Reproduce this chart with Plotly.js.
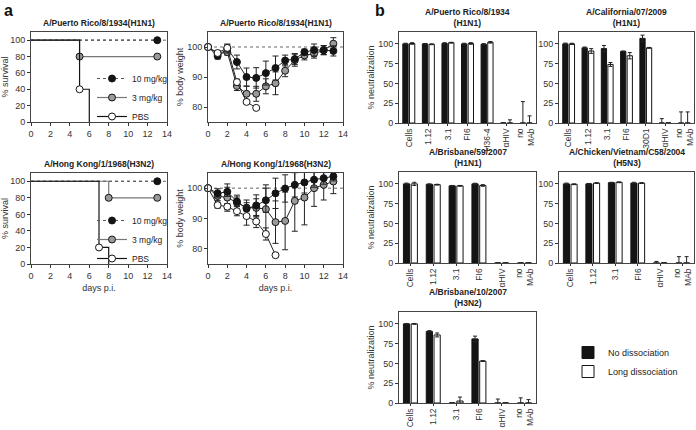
<!DOCTYPE html>
<html>
<head>
<meta charset="utf-8">
<script src="https://cdn.plot.ly/plotly-3.0.1.min.js"></script>
<style>
  html, body { margin: 0; padding: 0; background: #fff; }
  #chart { width: 696px; height: 430px; }
</style>
</head>
<body>
<div id="chart"></div>
<script>
// ---- panel a: survival (days, % survival) ----
const survPR8Days10 = [0, 13];
const survPR8Pct10 = [100, 100];
const survPR8Days3 = [0, 5, 13];
const survPR8Pct3 = [100, 80, 80];
const survPR8DaysPBS = [0, 5, 6];
const survPR8PctPBS = [100, 40, 0];

const survHKDays10 = [0, 13];
const survHKPct10 = [100, 100];
const survHKDays3 = [0, 8, 13];
const survHKPct3 = [100, 80, 80];
const survHKDaysPBS = [0, 7, 8];
const survHKPctPBS = [100, 20, 0];

// ---- panel a: body weight (% of day 0) ----
const days = [0, 1, 2, 3, 4, 5, 6, 7, 8, 9, 10, 11, 12, 13];
const wPR8_10 = [100, 97, 99.5, 95, 90, 89.7, 91.3, 93, 95.5, 96, 98.3, 99, 99, 98.7];
const ePR8_10 = [0, 1, 1.5, 2.3, 3, 3.4, 4, 4, 1.8, 1.8, 1, 2, 1.5, 1.7];
const wPR8_3 = [100, 97.7, 98.3, 87, 84.4, 84.4, 86.9, 87.9, 92.1, 95.6, 97.2, 97.8, 98.9, 101.1];
const ePR8_3 = [0, 0.8, 1, 1.5, 2.5, 2.5, 2.5, 3.8, 2, 2, 1.5, 1.5, 1.5, 2];
const daysPR8PBS = [0, 1, 2, 3, 4, 5];
const wPR8_PBS = [100, 98, 99.7, 88.3, 81.7, 79.7];
const ePR8_PBS = [0, 0.8, 1, 1, 0.5, 0.5];

const wHK_10 = [100, 98.3, 98.8, 95.6, 93.2, 94.3, 96, 98.3, 99.9, 101.1, 101.9, 102.8, 103.3, 103.9];
const eHK_10 = [0, 1.5, 1.5, 1.5, 2, 3.5, 4, 5, 4.5, 4, 3.5, 2.5, 2, 1.5];
const wHK_3 = [100, 97.4, 96.9, 95.2, 93.6, 93.5, 93.1, 88.8, 89.2, 95.8, 96.9, 100, 101.1, 102.2];
const eHK_3 = [0, 1.5, 4.5, 2.5, 2.5, 3, 8, 7, 9.5, 10, 9, 6, 5, 4];
const daysHKPBS = [0, 1, 2, 3, 4, 5, 6, 7];
const wHK_PBS = [100, 94.4, 93.9, 92.4, 90.8, 89, 84.9, 77.9];
const eHK_PBS = [0, 1, 1, 1.5, 3, 2, 2, 0];

// ---- panel b: % neutralization ----
const catsPR8 = ['Cells', '1.12', '3.1', 'FI6', 'H36-4', 'αHIV', 'no<br>MAb'];
const noDissPR8 = [100, 100, 100.5, 100, 99.5, 0, 0];
const noDissPR8Err = [0.8, 0.5, 1, 0.8, 0.8, 0, 27];
const longDissPR8 = [100.5, 99.5, 101.5, 100.5, 102, 0, 0];
const longDissPR8Err = [1, 0.5, 0.5, 1, 1, 4, 9];

const catsCal = ['Cells', '1.12', '3.1', 'FI6', '30D1', 'αHIV', 'no<br>MAb'];
const noDissCal = [100, 95, 94, 90.5, 107, 0, 0];
const noDissCalErr = [1, 1, 4, 0.5, 4, 5.5, 14];
const longDissCal = [100, 91, 74, 85, 95, 0, 0];
const longDissCalErr = [0.8, 3, 2.5, 4, 0.5, 0, 14];

const catsOther = ['Cells', '1.12', '3.1', 'FI6', 'αHIV', 'no<br>MAb'];
const noDissBris59 = [100, 99.5, 97.5, 100, 0, 0];
const noDissBris59Err = [1, 0.5, 0.5, 0.8, 0, 0];
const longDissBris59 = [100, 99, 97.5, 98, 0, 0];
const longDissBris59Err = [2, 0.5, 0.5, 1, 0, 0];

const noDissChk = [100, 100, 101.5, 101, 0, 0];
const noDissChkErr = [1, 0.5, 0.5, 1, 2, 8];
const longDissChk = [99.5, 101, 102, 101, 0, 0];
const longDissChkErr = [0.5, 0.5, 0.5, 0.5, 0, 8];

const noDissBris10 = [100, 90.5, 0, 81, 0, 0];
const noDissBris10Err = [0.5, 1, 0, 3.5, 5, 6.5];
const longDissBris10 = [100, 86, 2.5, 53, 0, 0];
const longDissBris10Err = [0.5, 2.5, 5, 0.5, 0, 4.3];

const FONT = 'Liberation Sans, Arial, sans-serif';
const BLACK = '#141414';
const GREY = '#9a9a9a';

function survTrace(x, y, name, rank, fill, lineColor, dash, xa, ya, legend) {
    // markers only where an event or the end of follow-up is
    const shown = [];
    y.forEach((v, i) => { if (i > 0 && v > 0) shown.push(i); });
    return {
        x: x, y: y, name: name, legendrank: rank, type: 'scatter', mode: 'lines+markers',
        line: { shape: 'hv', color: lineColor, width: 1.2, dash: dash },
        marker: { size: 7, color: fill, line: { color: BLACK, width: 1 } },
        selectedpoints: shown,
        selected: { marker: { opacity: 1 } },
        unselected: { marker: { opacity: 0 } },
        xaxis: xa, yaxis: ya, legend: legend, cliponaxis: false
    };
}

function weightTrace(x, y, err, fill, xa, ya) {
    return {
        x: x, y: y, type: 'scatter', mode: 'lines+markers', showlegend: false,
        line: { color: '#222', width: 1 },
        marker: { size: 7, color: fill, line: { color: BLACK, width: 1 } },
        error_y: { type: 'data', array: err, color: '#222', thickness: 1, width: 3 },
        xaxis: xa, yaxis: ya, cliponaxis: false
    };
}

function barTrace(cats, vals, err, name, fill, xa, ya, show) {
    return {
        x: cats, y: vals, name: name, type: 'bar', showlegend: show, legend: 'legend3',
        marker: { color: fill, line: { color: BLACK, width: 1 } },
        error_y: { type: 'data', array: err, color: '#222', thickness: 1, width: 2 },
        xaxis: xa, yaxis: ya
    };
}

const data = [
    survTrace(survPR8Days10, survPR8Pct10, '10 mg/kg', 1, BLACK, '#555', 'dot', 'x', 'y', 'legend'),
    survTrace(survPR8Days3, survPR8Pct3, '3 mg/kg', 2, GREY, '#777', 'solid', 'x', 'y', 'legend'),
    survTrace(survPR8DaysPBS, survPR8PctPBS, 'PBS', 3, '#fff', BLACK, 'solid', 'x', 'y', 'legend'),

    survTrace(survHKDays10, survHKPct10, '10 mg/kg', 1, BLACK, '#555', 'dot', 'x3', 'y3', 'legend2'),
    survTrace(survHKDays3, survHKPct3, '3 mg/kg', 2, GREY, '#777', 'solid', 'x3', 'y3', 'legend2'),
    survTrace(survHKDaysPBS, survHKPctPBS, 'PBS', 3, '#fff', BLACK, 'solid', 'x3', 'y3', 'legend2'),

    weightTrace(days, wPR8_3, ePR8_3, GREY, 'x2', 'y2'),
    weightTrace(days, wPR8_10, ePR8_10, BLACK, 'x2', 'y2'),
    weightTrace(daysPR8PBS, wPR8_PBS, ePR8_PBS, '#fff', 'x2', 'y2'),

    weightTrace(days, wHK_3, eHK_3, GREY, 'x4', 'y4'),
    weightTrace(days, wHK_10, eHK_10, BLACK, 'x4', 'y4'),
    weightTrace(daysHKPBS, wHK_PBS, eHK_PBS, '#fff', 'x4', 'y4'),

    barTrace(catsPR8, noDissPR8, noDissPR8Err, 'No dissociation', BLACK, 'x5', 'y5', true),
    barTrace(catsPR8, longDissPR8, longDissPR8Err, 'Long dissociation', '#fff', 'x5', 'y5', true),
    barTrace(catsCal, noDissCal, noDissCalErr, 'No dissociation', BLACK, 'x6', 'y6', false),
    barTrace(catsCal, longDissCal, longDissCalErr, 'Long dissociation', '#fff', 'x6', 'y6', false),
    barTrace(catsOther, noDissBris59, noDissBris59Err, 'No dissociation', BLACK, 'x7', 'y7', false),
    barTrace(catsOther, longDissBris59, longDissBris59Err, 'Long dissociation', '#fff', 'x7', 'y7', false),
    barTrace(catsOther, noDissChk, noDissChkErr, 'No dissociation', BLACK, 'x8', 'y8', false),
    barTrace(catsOther, longDissChk, longDissChkErr, 'Long dissociation', '#fff', 'x8', 'y8', false),
    barTrace(catsOther, noDissBris10, noDissBris10Err, 'No dissociation', BLACK, 'x9', 'y9', false),
    barTrace(catsOther, longDissBris10, longDissBris10Err, 'Long dissociation', '#fff', 'x9', 'y9', false)
];

const baseAxis = {
    showgrid: false, zeroline: false, showline: true, mirror: true,
    linecolor: '#444', linewidth: 1, ticks: 'outside', ticklen: 3, tickwidth: 1,
    tickcolor: '#333', tickfont: { size: 9, color: '#333' }, fixedrange: true
};
const ax = extra => Object.assign({}, baseAxis, extra);
const tf = { size: 9, color: '#333' };

// pixel boxes of the reference, turned into paper fractions
const W = 696, H = 430;
const dx = (a, b) => [a / W, b / W];
const dy = (top, bot) => [1 - bot / H, 1 - top / H];

const dayAxis = (dom, anchor, withTitle) => ax({
    domain: dom, anchor: anchor, range: [0, 14], dtick: 2,
    title: withTitle ? { text: 'days p.i.', font: tf, standoff: 4 } : undefined
});
const catAxis = (dom, anchor) => ax({
    domain: dom, anchor: anchor, type: 'category', tickangle: -90, ticklen: 2,
    ticklabelstandoff: -1, tickfont: { size: 8.5, color: '#333' }
});
const neutAxis = (dom, anchor, withTitle) => ax({
    domain: dom, anchor: anchor, range: [0, 115], tickvals: [0, 25, 50, 75, 100],
    title: withTitle ? { text: '% neutralization', font: tf, standoff: 2 } : undefined
});
const legendBase = {
    xanchor: 'left', yanchor: 'top', bgcolor: 'rgba(0,0,0,0)', borderwidth: 0,
    font: { size: 8.5, color: '#222' }, traceorder: 'normal'
};

const layout = {
    width: W, height: H,
    margin: { l: 0, r: 0, t: 0, b: 0 },
    paper_bgcolor: '#fff', plot_bgcolor: '#fff',
    font: { family: FONT, color: '#222' },
    barmode: 'group', bargap: 0.32, bargroupgap: 0.2,

    xaxis: dayAxis(dx(31, 167), 'y', false),
    yaxis: ax({ domain: dy(32, 122), anchor: 'x', range: [0, 110], tickvals: [0, 20, 40, 60, 80, 100],
        title: { text: '% survival', font: tf, standoff: 2 } }),
    xaxis2: dayAxis(dx(208, 343), 'y2', false),
    yaxis2: ax({ domain: dy(32, 122), anchor: 'x2', range: [75, 105], tickvals: [80, 90, 100],
        title: { text: '% body weight', font: tf, standoff: 2 } }),
    xaxis3: dayAxis(dx(31, 167), 'y3', true),
    yaxis3: ax({ domain: dy(173, 264), anchor: 'x3', range: [0, 110], tickvals: [0, 20, 40, 60, 80, 100],
        title: { text: '% survival', font: tf, standoff: 2 } }),
    xaxis4: dayAxis(dx(208, 343), 'y4', true),
    yaxis4: ax({ domain: dy(173, 264), anchor: 'x4', range: [75, 105], tickvals: [80, 90, 100],
        title: { text: '% body weight', font: tf, standoff: 2 } }),

    xaxis5: catAxis(dx(399, 536), 'y5'),
    yaxis5: neutAxis(dy(32, 123), 'x5', true),
    xaxis6: catAxis(dx(559, 694), 'y6'),
    yaxis6: neutAxis(dy(32, 123), 'x6', false),
    xaxis7: catAxis(dx(399, 536), 'y7'),
    yaxis7: neutAxis(dy(172, 263), 'x7', true),
    xaxis8: catAxis(dx(559, 694), 'y8'),
    yaxis8: neutAxis(dy(172, 263), 'x8', false),
    xaxis9: catAxis(dx(399, 536), 'y9'),
    yaxis9: neutAxis(dy(312, 403), 'x9', true),

    legend: Object.assign({}, legendBase, { x: 92 / W, y: 1 - 64 / H }),
    legend2: Object.assign({}, legendBase, { x: 92 / W, y: 1 - 206 / H }),
    legend3: Object.assign({}, legendBase, { x: 568 / W, y: 1 - 338 / H, font: { size: 9, color: '#222' } }),

    shapes: ['', '2', '3', '4'].map(n => ({
        type: 'line', xref: 'x' + n + ' domain', yref: 'y' + n, x0: 0, x1: 1, y0: 100, y1: 100,
        layer: 'below', line: { color: '#666', width: 1, dash: 'dot' }
    })),

    annotations: []
};

const titleFont = { size: 8.5, color: '#222', family: FONT };
const panelTitles = [
    ['', 'A/Puerto Rico/8/1934(H1N1)'],
    ['2', 'A/Puerto Rico/8/1934(H1N1)'],
    ['3', 'A/Hong Kong/1/1968(H3N2)'],
    ['4', 'A/Hong Kong/1/1968(H3N2)'],
    ['5', 'A/Puerto Rico/8/1934<br>(H1N1)'],
    ['6', 'A/California/07/2009<br>(H1N1)'],
    ['7', 'A/Brisbane/59/2007<br>(H1N1)'],
    ['8', 'A/Chicken/Vietnam/C58/2004<br>(H5N3)'],
    ['9', 'A/Brisbane/10/2007<br>(H3N2)']
];
panelTitles.forEach(([n, text]) => {
    layout.annotations.push({
        xref: 'x' + n + ' domain', yref: 'y' + n + ' domain', x: 0.5, y: 1,
        xanchor: 'center', yanchor: 'bottom', yshift: 2, showarrow: false,
        text: '<b>' + text + '</b>', font: titleFont
    });
});
layout.annotations.push(
    { xref: 'paper', yref: 'paper', x: 2 / W, y: 1, xanchor: 'left', yanchor: 'top', showarrow: false,
      text: '<b>a</b>', font: { size: 16, color: '#111' } },
    { xref: 'paper', yref: 'paper', x: 373 / W, y: 1, xanchor: 'left', yanchor: 'top', showarrow: false,
      text: '<b>b</b>', font: { size: 16, color: '#111' } }
);

Plotly.newPlot('chart', data, layout, { displayModeBar: false, staticPlot: true });
</script>
</body>
</html>
